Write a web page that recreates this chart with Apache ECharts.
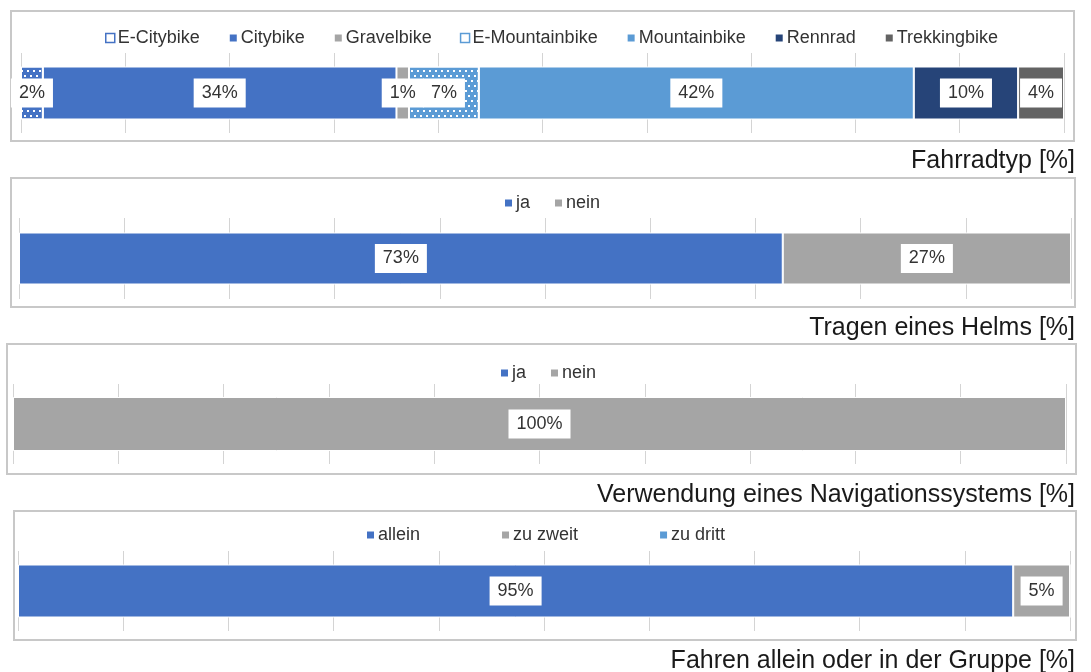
<!DOCTYPE html>
<html>
<head>
<meta charset="utf-8">
<script src="https://cdn.jsdelivr.net/npm/echarts@6/dist/echarts.min.js"></script>
<style>
  html, body { margin: 0; padding: 0; background: #fff; }
  #mychart { width: 1091px; height: 672px; }
</style>
</head>
<body>
<div id="mychart"></div>
<script>
  // data
  var bikeTypes = ['E-Citybike', 'Citybike', 'Gravelbike', 'E-Mountainbike', 'Mountainbike', 'Rennrad', 'Trekkingbike']
  var bikeValues = [2.1, 33.9, 1.2, 6.7, 41.7, 10.0, 4.4]
  var helmNames = ['ja', 'nein']
  var helmValues = [72.6, 27.4]
  var naviNames = ['ja', 'nein']
  var naviValues = [0, 100]
  var groupNames = ['allein', 'zu zweit', 'zu dritt']
  var groupValues = [94.6, 5.4, 0]
  var panelTitles = ['Fahrradtyp [%]', 'Tragen eines Helms [%]', 'Verwendung eines Navigationssystems [%]', 'Fahren allein oder in der Gruppe [%]']

  var FONT = "'Liberation Sans', Arial, sans-serif"
  var dots = {
    symbol: 'rect',
    symbolSize: 1,
    color: '#fff',
    dashArrayX: [[2, 4], [0, 3, 2, 1]],
    dashArrayY: [2, 3],
    rotation: 0
  }

  var panels = [
    { names: bikeTypes, values: bikeValues,
      colors: ['#4472C4', '#4472C4', '#A5A5A5', '#5B9BD5', '#5B9BD5', '#264478', '#636363'],
      decals: [true, false, false, true, false, false, false],
      box: [11, 11, 1063, 130], grid: { left: 21, right: 27, top: 53, height: 80 }, bar: 53,
      legendLeft: 105, legendTop: 29, gap: 28, titleTop: 149 },
    { names: helmNames, values: helmValues, colors: ['#4472C4', '#A5A5A5'], decals: [],
      box: [11, 178, 1064, 129], grid: { left: 19, right: 20, top: 218, height: 81 }, bar: 52,
      legendLeft: 503, legendTop: 194, gap: 23, titleTop: 316 },
    { names: naviNames, values: naviValues, colors: ['#4472C4', '#A5A5A5'], decals: [],
      box: [7, 344, 1069, 130], grid: { left: 13, right: 25, top: 384, height: 80 }, bar: 54,
      legendLeft: 499, legendTop: 364, gap: 23, titleTop: 483 },
    { names: groupNames, values: groupValues, colors: ['#4472C4', '#A5A5A5', '#5B9BD5'], decals: [],
      box: [14, 511, 1062, 129], grid: { left: 18, right: 21, top: 551, height: 80 }, bar: 53,
      legendLeft: 365, legendTop: 526, gap: 80, titleTop: 649 }
  ]

  var grids = [], xAxes = [], yAxes = [], legends = [], titles = [], series = [], boxes = []

  panels.forEach(function(p, i) {
    grids.push(p.grid)
    xAxes.push({
      gridIndex: i, type: 'value', min: 0, max: 100, interval: 10,
      axisLabel: { show: false }, axisLine: { show: false }, axisTick: { show: false },
      splitLine: { show: true, lineStyle: { color: '#D4D4D4', width: 1 } }
    })
    yAxes.push({
      gridIndex: i, type: 'category', data: [''],
      axisLabel: { show: false }, axisLine: { show: false }, axisTick: { show: false }
    })
    legends.push({
      data: p.names.map(function(name, k) {
        // patterned series get a bordered marker like the original
        if (p.decals[k]) {
          return { name: name, itemStyle: { color: '#fff', borderColor: p.colors[k], borderWidth: 1.5, decal: 'none' } }
        }
        return name
      }),
      left: p.legendLeft, top: p.legendTop, itemGap: p.gap, padding: 0,
      icon: 'rect', itemWidth: 9, itemHeight: 9, selectedMode: false,
      textStyle: { fontSize: 18, color: '#333', fontFamily: FONT, padding: [0, 0, 0, -2] }
    })
    titles.push({
      text: panelTitles[i], right: 16, top: p.titleTop, padding: 0,
      textStyle: { fontSize: 25, fontWeight: 'normal', color: '#1a1a1a', fontFamily: FONT }
    })
    boxes.push({
      type: 'rect', z: -10,
      shape: { x: p.box[0], y: p.box[1], width: p.box[2], height: p.box[3] },
      style: { fill: 'none', stroke: '#C8C8C8', lineWidth: 2 }
    })
    p.names.forEach(function(name, k) {
      var v = p.values[k]
      var style = { color: p.colors[k], borderColor: '#fff', borderWidth: 1 }
      if (p.decals[k]) style.decal = dots
      series.push({
        name: name, type: 'bar', stack: 'p' + i,
        xAxisIndex: i, yAxisIndex: i, barWidth: p.bar,
        itemStyle: style,
        label: {
          show: v > 0, position: 'inside',
          formatter: function(d) { return Math.round(d.value) + '%' },
          backgroundColor: '#fff', padding: [6, 8, 5, 8],
          fontSize: 18, color: '#333', fontFamily: FONT
        },
        data: [v]
      })
    })
  })

  var chart = echarts.init(document.getElementById('mychart'))
  chart.setOption({
    animation: false,
    title: titles,
    legend: legends,
    grid: grids,
    xAxis: xAxes,
    yAxis: yAxes,
    graphic: boxes,
    series: series
  })
</script>
</body>
</html>
